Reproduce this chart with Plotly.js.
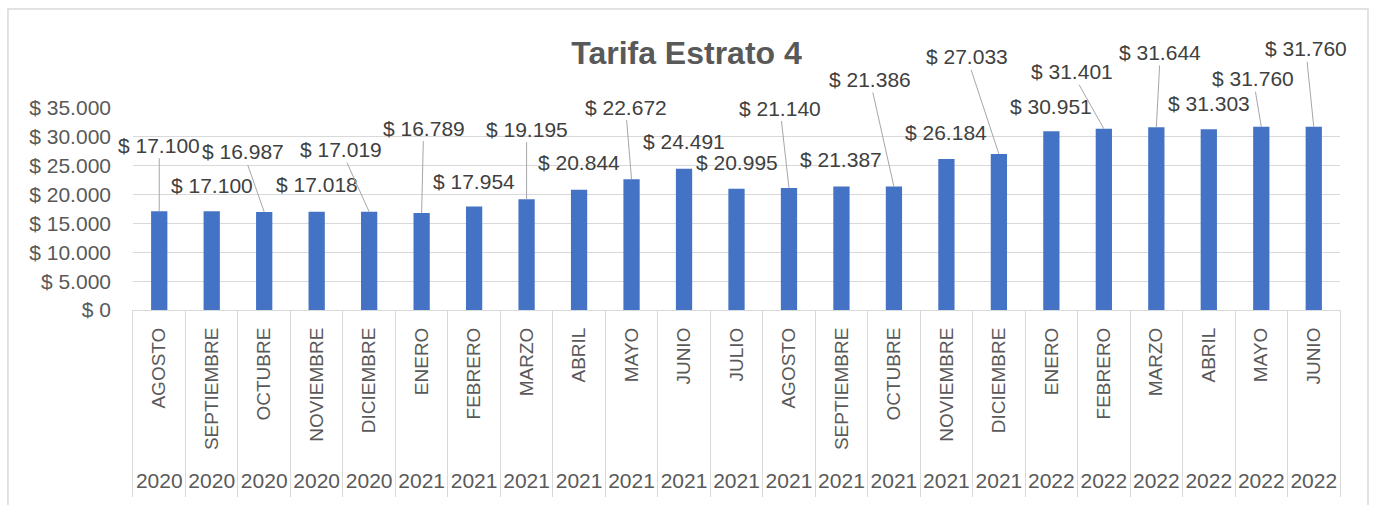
<!DOCTYPE html>
<html>
<head>
<meta charset="utf-8">
<script src="https://cdn.plot.ly/plotly-3.0.1.min.js"></script>
<style>
  html, body { margin: 0; padding: 0; background: #fff; }
  #chart { width: 1373px; height: 505px; }
</style>
</head>
<body>
<div id="chart"></div>
<script>
// Tarifa Estrato 4 - monthly tariff, Aug 2020 to Jun 2022

const months = ['AGOSTO', 'SEPTIEMBRE', 'OCTUBRE', 'NOVIEMBRE', 'DICIEMBRE',
    'ENERO', 'FEBRERO', 'MARZO', 'ABRIL', 'MAYO', 'JUNIO', 'JULIO', 'AGOSTO',
    'SEPTIEMBRE', 'OCTUBRE', 'NOVIEMBRE', 'DICIEMBRE',
    'ENERO', 'FEBRERO', 'MARZO', 'ABRIL', 'MAYO', 'JUNIO'];
const years = ['2020', '2020', '2020', '2020', '2020',
    '2021', '2021', '2021', '2021', '2021', '2021', '2021', '2021',
    '2021', '2021', '2021', '2021',
    '2022', '2022', '2022', '2022', '2022', '2022'];
const tarifa = [17100, 17100, 16987, 17018, 17019,
    16789, 17954, 19195, 20844, 22672, 24491, 20995, 21140,
    21387, 21386, 26184, 27033,
    30951, 31401, 31644, 31303, 31760, 31760];

// label offsets in px (ax, ay) from the bar top, like Excel's dragged labels
const labelOffsets = [
    [0, -66], [0, -26], [-21, -60], [0, -27], [-28, -62],
    [2, -85], [0, -25], [0, -70], [0, -27], [-6, -72], [0, -27], [0, -26], [-9, -80],
    [0, -27], [-24, -107], [0, -26], [-32, -97],
    [0, -25], [-32, -57], [4, -75], [0, -26], [-8, -48], [-8, -78]
];

const FONT = 'Liberation Sans, Arial, sans-serif';
const GRID = '#d9d9d9';

// unique category keys so repeated month names stay separate bars
const cats = months.map((m, i) => m + ' ' + years[i] + '|' + i);

function money(v) {
    return '$ ' + v.toString().replace(/\B(?=(\d{3})+(?!\d))/g, '.');
}

const bars = {
    x: cats,
    y: tarifa,
    type: 'bar',
    marker: { color: '#4472c4' },
    hoverinfo: 'y',
    showlegend: false
};

// empty trace so the year table subplot exists
const yearTable = {
    x: [], y: [], xaxis: 'x2', yaxis: 'y2',
    type: 'scatter', mode: 'markers', showlegend: false, hoverinfo: 'skip'
};

const annotations = tarifa.map((v, i) => {
    const [ax, ay] = labelOffsets[i];
    const leader = ax !== 0 || ay < -35;
    return {
        x: cats[i], y: v, xref: 'x', yref: 'y',
        text: money(v),
        showarrow: true, arrowhead: 0, arrowwidth: 1, standoff: 0,
        arrowcolor: leader ? '#a6a6a6' : 'rgba(0,0,0,0)',
        ax: ax, ay: ay,
        font: { family: FONT, size: 21, color: '#404040' }
    };
});

const splitY = 0.4807;

const layout = {
    width: 1373,
    height: 505,
    margin: { l: 133, r: 33, t: 108, b: 8 },
    paper_bgcolor: '#fff',
    plot_bgcolor: '#fff',
    separators: ',.',
    bargap: 0.69,
    title: {
        text: 'Tarifa Estrato 4',
        xref: 'container', x: 0.5, xanchor: 'center',
        yref: 'container', y: 0.895, yanchor: 'middle',
        font: { family: FONT, size: 32, color: '#595959', weight: 'bold' }
    },
    xaxis: {
        type: 'category',
        anchor: 'y',
        range: [-0.5, cats.length - 0.5],
        autorange: false,
        tickvals: cats,
        ticktext: months,
        tickangle: -90,
        ticks: '',
        showgrid: false,
        showline: true,
        linecolor: GRID,
        linewidth: 1,
        ticklabelstandoff: 9,
        tickfont: { family: FONT, size: 19, color: '#595959' }
    },
    yaxis: {
        domain: [splitY, 1],
        range: [0, 35000],
        autorange: false,
        dtick: 5000,
        tickprefix: '$ ',
        tickformat: ',d',
        showgrid: true,
        gridcolor: GRID,
        zeroline: false,
        ticks: '',
        ticklabelstandoff: 21,
        tickfont: { family: FONT, size: 21, color: '#595959' }
    },
    xaxis2: {
        anchor: 'y2',
        range: [-0.5, cats.length - 0.5],
        autorange: false,
        tickmode: 'array',
        tickvals: years.map((_, i) => i),
        ticktext: years,
        ticklabelposition: 'inside',
        ticklabelstandoff: 2,
        ticks: '',
        showgrid: false,
        zeroline: false,
        showline: false,
        minor: { tickmode: 'linear', tick0: -0.5, dtick: 1, showgrid: true, gridcolor: GRID, gridwidth: 1, ticks: '' },
        tickfont: { family: FONT, size: 21, color: '#595959' }
    },
    yaxis2: {
        domain: [0, splitY],
        anchor: 'x2',
        range: [0, 1],
        autorange: false,
        showticklabels: false,
        showgrid: false,
        zeroline: false,
        showline: true,
        mirror: true,
        linecolor: GRID
    },
    annotations: annotations,
    shapes: [{
        type: 'rect', xref: 'paper', yref: 'paper', layer: 'below',
        x0: -0.1036, x1: 1.0232, y0: -0.2, y1: 1.2545,
        line: { color: GRID, width: 1.5 }
    }]
};

Plotly.newPlot('chart', [bars, yearTable], layout, { displayModeBar: false, staticPlot: true });
</script>
</body>
</html>
